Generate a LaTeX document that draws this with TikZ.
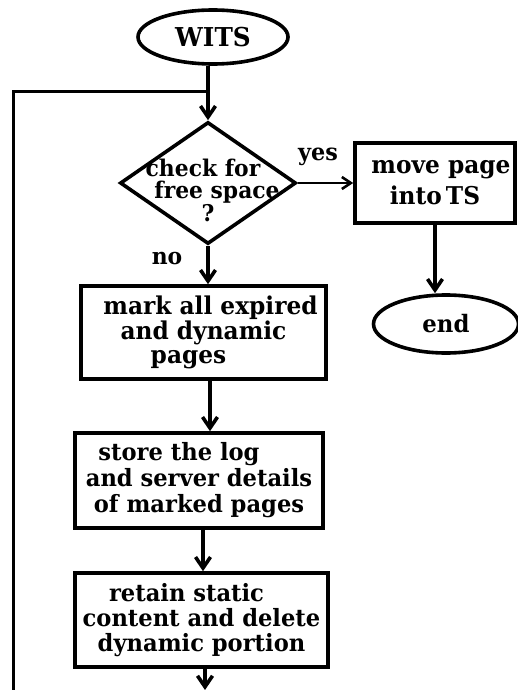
\documentclass[tikz,border=0pt]{standalone}
\usepackage{fontspec}
\setmainfont{DejaVu Serif}[FakeStretch=0.95]
\usetikzlibrary{shapes.geometric,arrows.meta}
\newcommand\shl[1]{\hspace*{#1}}
\begin{document}
\begin{tikzpicture}[x=1pt,y=-1pt,line width=3.4pt,
  >={Straight Barb[length=11pt,width=15pt]},
  txtfont/.style 2 args={font=\bfseries\fontsize{#1}{#2}\selectfont},
  box/.style={draw,rectangle,line width=3.6pt,inner sep=0pt,align=center},
  term/.style={draw,ellipse,line width=3.6pt,inner sep=0pt},
  decision/.style={draw,diamond,line width=3.6pt,inner sep=0pt},
  flow/.style={->,line width=3.6pt},
  thinflow/.style={->,line width=2.6pt,>={Straight Barb[length=9pt,width=12pt]}}]
\useasboundingbox (0,0) rectangle (517,690);
% nodes
\node[term,txtfont={26}{28},minimum width=150pt,minimum height=54pt] (wits) at (213,37) {WITS};
\node[decision,minimum width=176pt,minimum height=122pt] (dia) at (208,183) {};
\node[align=center,inner sep=0pt,txtfont={23}{22.5}] (diatext) at (211,190) {check for\shl{16pt}\\\shl{12pt}free space\\?\shl{6pt}};
\node[box,txtfont={24.5}{31},minimum width=160pt,minimum height=80pt] (move) at (435,183) {\shl{12pt}move page\\into\,TS};
\node[term,txtfont={24}{26},minimum width=145pt,minimum height=58pt] (end) at (446,324) {end};
\node[box,txtfont={24.5}{24.5},minimum width=245pt,minimum height=93pt] (mark) at (203.5,332.5) {\shl{14pt}mark all expired\\and dynamic\shl{6pt}\\pages\shl{30pt}};
\node[box,txtfont={23.8}{26},minimum width=248pt,minimum height=95pt] (store) at (199,480.5) {store the log\shl{40pt}\\and server details\\of marked pages};
\node[box,txtfont={23.8}{25},minimum width=253pt,minimum height=94pt] (retain) at (201.5,620) {retain static\shl{30pt}\\content and delete\\dynamic portion};
\node[txtfont={23.5}{26},inner sep=0pt] (yes) at (318,157) {yes};
\node[txtfont={23}{26},inner sep=0pt] (no) at (167,259) {no};
% helper coordinates
\coordinate (join) at (208,92);
\coordinate (loopend) at (13,692);
\coordinate (out) at (205,690);
% connectors
\draw[flow] (dia.north |- wits.south) -- (dia.north);
\draw[line width=3pt] (loopend) |- (join);
\draw[thinflow] (dia.east) -- (move.west);
\draw[flow] (move.south) -- (move.south |- end.north);
\draw[flow] (dia.south) -- (dia.south |- mark.north);
\draw[flow] ([xshift=6.5pt]mark.south) -- ([xshift=6.5pt]mark.south |- store.north);
\draw[flow] ([xshift=4pt]store.south) -- ([xshift=4pt]store.south |- retain.north);
\draw[flow] ([xshift=3.5pt]retain.south) -- (out);
\end{tikzpicture}
\end{document}
